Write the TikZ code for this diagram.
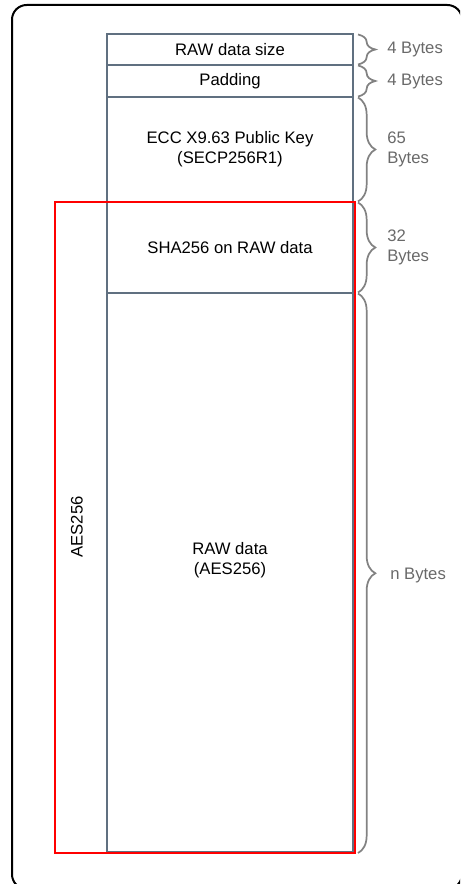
\documentclass[tikz,border=0pt]{standalone}
\usepackage{fontspec}
\setmainfont{Liberation Sans}
\usetikzlibrary{decorations.pathreplacing,calc}
\definecolor{slate}{RGB}{96,112,128}
\definecolor{bracegray}{RGB}{130,130,130}
\definecolor{labelgray}{RGB}{105,105,105}
\tikzset{
    field/.style={draw=slate, line width=1.5pt, inner sep=0pt, minimum width=184.5pt, align=center, font=\fontsize{12.5}{15}\selectfont},
    sizebrace/.style={draw=bracegray, line width=1.3pt, decorate, decoration={brace, amplitude=13pt}},
    sizelabel/.style={anchor=west, inner sep=0pt, align=left, text=labelgray, font=\fontsize{12.5}{15}\selectfont},
}
\begin{document}
\begin{tikzpicture}[x=0.75pt,y=0.75pt,yscale=-1,xscale=1]
        \useasboundingbox (0,0) rectangle (460,884);
        \begin{scope}
        \clip (0,0) rectangle (460,884);
        \draw [line width=1.5pt, rounded corners=11pt] (12,5) rectangle (462,889);
        \end{scope}
        % fields of the file
        \node [field, minimum height=23.25pt] (size) at (230,49.5) {RAW data size};
        \node [field, minimum height=24pt] (pad) at (230,81) {Padding};
        \node [field, minimum height=78.75pt] (key) at (230,149.5) {ECC X9.63 Public Key\\(SECP256R1)};
        \node [field, minimum height=68.25pt] (hash) at (230,247.5) {SHA256 on RAW data};
        \node [field, minimum height=419.25pt] (raw) at (230,572.5) {};
        \node [inner sep=0pt, align=center, font=\fontsize{12.5}{15}\selectfont] (rawtext) at (230,560) {RAW data\\(AES256)};
        % encrypted part
        \draw [red, line width=1.5pt] (55,202) rectangle (355,853);
        \node [rotate=90, inner sep=0pt, font=\fontsize{12.5}{15}\selectfont] (aes) at (77,527) {AES256};
        % sizes
        \draw [sizebrace] ($(size.north east)+(4,1.5)$) -- ($(size.south east)+(4,-1.5)$);
        \draw [sizebrace] ($(pad.north east)+(4,1.5)$) -- ($(pad.south east)+(4,-1.5)$);
        \draw [sizebrace] ($(key.north east)+(4,1.5)$) -- ($(key.south east)+(4,-1.5)$);
        \draw [sizebrace] ($(hash.north east)+(4,1.5)$) -- ($(hash.south east)+(4,-1.5)$);
        \draw [sizebrace] ($(raw.north east)+(4,1.5)$) -- ($(raw.south east)+(4,0)$);
        \node [sizelabel] (sizelen) at ($(size.east)+(33,0)$) {4 Bytes};
        \node [sizelabel] (padlen) at ($(pad.east)+(33,0)$) {4 Bytes};
        \node [sizelabel] (keylen) at ($(key.east)+(33,0)$) {65\\Bytes};
        \node [sizelabel] (hashlen) at ($(hash.east)+(33,0)$) {32\\Bytes};
        \node [sizelabel] (rawlen) at ($(raw.east)+(36,3)$) {n Bytes};
    \end{tikzpicture}
\end{document}
